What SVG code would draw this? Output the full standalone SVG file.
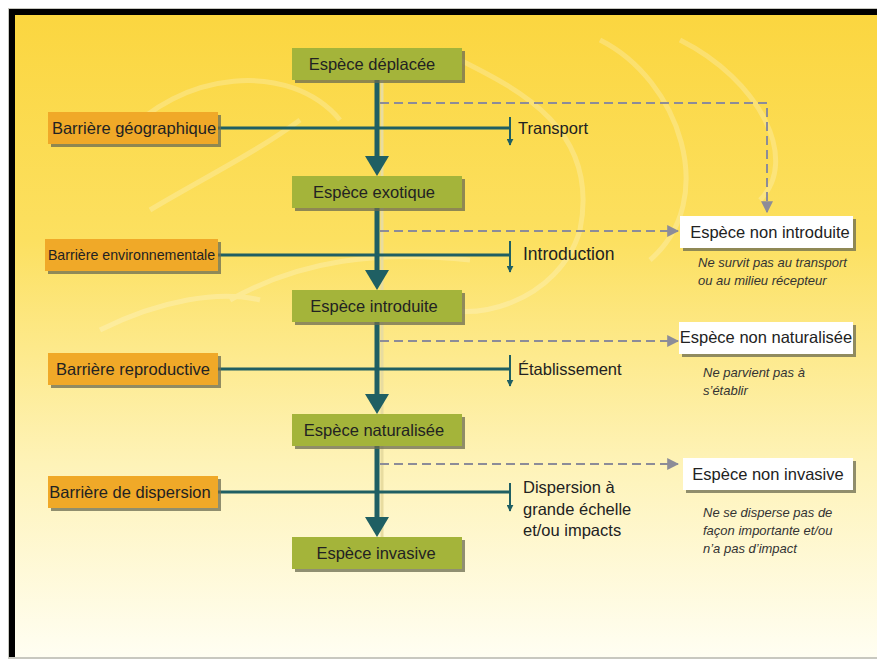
<svg xmlns="http://www.w3.org/2000/svg" width="877" height="659" viewBox="0 0 877 659">
<defs>
<linearGradient id="bg" x1="0" y1="0" x2="0" y2="1">
<stop offset="0" stop-color="#FBD640"/>
<stop offset="0.35" stop-color="#FCE060"/>
<stop offset="0.7" stop-color="#FEF3B8"/>
<stop offset="1" stop-color="#FFFEF2"/>
</linearGradient>
<marker id="ahs" viewBox="0 0 10 10" refX="9" refY="5" markerWidth="3.5" markerHeight="3.5" orient="auto" markerUnits="strokeWidth">
<path d="M0,0 L10,5 L0,10 Z" fill="#1F5F63"/>
</marker>
<marker id="ag" viewBox="0 0 10 10" refX="9" refY="5" markerWidth="6" markerHeight="6" orient="auto" markerUnits="strokeWidth">
<path d="M0,0 L10,5 L0,10 Z" fill="#8C8C98"/>
</marker>
</defs>
<style>
.t{font-family:"Liberation Sans",Arial,sans-serif;font-size:16.5px;fill:#222;}
.c{text-anchor:middle;}
.n{font-family:"Liberation Sans",Arial,sans-serif;font-size:13px;font-style:italic;fill:#333;}
.g{fill:#A4B43A;}
.o{fill:#F0A928;}
.w{fill:#FFFFFF;}
.sh{fill:#6B6B50;opacity:0.75;}
.main{stroke:#1F5F63;stroke-width:5;fill:none;}
.bar{stroke:#1F5F63;stroke-width:3;fill:none;}
.tk{stroke:#1F5F63;stroke-width:2;fill:none;}
.d{stroke:#8C8C98;stroke-width:2;stroke-dasharray:9 5;fill:none;}
</style>
<rect x="0" y="0" width="877" height="659" fill="#FFFFFF"/>
<rect x="8" y="8" width="869" height="651" fill="#C8C8C0"/>
<rect x="9" y="9" width="868" height="648" fill="#000"/>
<rect x="15" y="15" width="862" height="642" fill="url(#bg)"/>
<g opacity="0.22" fill="none" stroke="#FFFFFF" stroke-width="5">
<path d="M120,140 C180,70 290,60 340,120"/>
<path d="M150,210 C200,180 260,150 300,120"/>
<path d="M460,60 C520,90 600,130 580,230 C560,300 470,330 420,300"/>
<path d="M600,40 C680,80 720,200 650,260"/>
<path d="M680,40 C760,80 800,160 760,200"/>
<path d="M230,300 C300,260 380,250 470,260"/>
<path d="M100,330 C160,300 220,290 260,300"/>
</g>
<g id="connectors">
<line x1="382" y1="80" x2="382" y2="537" stroke="#E8DCA0" stroke-width="3"/>
<line class="main" x1="377" y1="80" x2="377" y2="158"/>
<path d="M365,156 L389,156 L377,176 Z" fill="#1F5F63"/>
<line class="main" x1="377" y1="208" x2="377" y2="272"/>
<path d="M365,270 L389,270 L377,290 Z" fill="#1F5F63"/>
<line class="main" x1="377" y1="322" x2="377" y2="396"/>
<path d="M365,394 L389,394 L377,414 Z" fill="#1F5F63"/>
<line class="main" x1="377" y1="446" x2="377" y2="519"/>
<path d="M365,517 L389,517 L377,537 Z" fill="#1F5F63"/>

<line class="bar" x1="218" y1="128" x2="510" y2="128"/>
<line class="tk" x1="510" y1="117" x2="510" y2="145" marker-end="url(#ahs)"/>
<line class="bar" x1="218" y1="255" x2="510" y2="255"/>
<line class="tk" x1="510" y1="241" x2="510" y2="272" marker-end="url(#ahs)"/>
<line class="bar" x1="218" y1="369" x2="510" y2="369"/>
<line class="tk" x1="510" y1="355" x2="510" y2="386" marker-end="url(#ahs)"/>
<line class="bar" x1="218" y1="492" x2="510" y2="492"/>
<line class="tk" x1="510" y1="483" x2="510" y2="511" marker-end="url(#ahs)"/>

<path class="d" d="M380,103 L767,103 L767,212" marker-end="url(#ag)"/>
<line class="d" x1="380" y1="231" x2="678" y2="231" marker-end="url(#ag)"/>
<line class="d" x1="380" y1="341" x2="678" y2="341" marker-end="url(#ag)"/>
<line class="d" x1="380" y1="464" x2="678" y2="464" marker-end="url(#ag)"/>
</g>

<g id="n-deplacee"><rect class="sh" x="295" y="51" width="170" height="32"/><rect class="g" x="292" y="48" width="170" height="32"/><text class="t c" x="372" y="70">Espèce déplacée</text></g>
<g id="n-exotique"><rect class="sh" x="295" y="179" width="170" height="32"/><rect class="g" x="292" y="176" width="170" height="32"/><text class="t c" x="374" y="198">Espèce exotique</text></g>
<g id="n-introduite"><rect class="sh" x="295" y="293" width="170" height="32"/><rect class="g" x="292" y="290" width="170" height="32"/><text class="t c" x="374" y="312">Espèce introduite</text></g>
<g id="n-naturalisee"><rect class="sh" x="295" y="417" width="170" height="32"/><rect class="g" x="292" y="414" width="170" height="32"/><text class="t c" x="374" y="436">Espèce naturalisée</text></g>
<g id="n-invasive"><rect class="sh" x="295" y="540" width="170" height="32"/><rect class="g" x="292" y="537" width="170" height="32"/><text class="t c" x="376" y="559">Espèce invasive</text></g>

<g id="b-geo"><rect class="sh" x="51" y="115" width="170" height="32"/><rect class="o" x="48" y="112" width="170" height="32"/><text class="t c" x="134" y="134">Barrière géographique</text></g>
<g id="b-env"><rect class="sh" x="48" y="242" width="173" height="32"/><rect class="o" x="45" y="239" width="173" height="32"/><text class="t c" x="131.5" y="260" style="font-size:14.2px">Barrière  environnementale</text></g>
<g id="b-rep"><rect class="sh" x="51" y="356" width="170" height="32"/><rect class="o" x="48" y="353" width="170" height="32"/><text class="t c" x="133" y="375">Barrière reproductive</text></g>
<g id="b-dis"><rect class="sh" x="51" y="479" width="170" height="32"/><rect class="o" x="48" y="476" width="170" height="32"/><text class="t c" x="130" y="498">Barrière de dispersion</text></g>

<g id="l-transport"><text class="t" x="518" y="134">Transport</text></g>
<g id="l-introduction"><text class="t" x="523" y="260" style="font-size:17.5px">Introduction</text></g>
<g id="l-etab"><text class="t" x="518" y="375">Établissement</text></g>
<g id="l-disp"><text class="t" x="523" y="493">Dispersion à</text><text class="t" x="523" y="515">grande échelle</text><text class="t" x="523" y="536">et/ou impacts</text></g>

<g id="r-nonintro"><rect class="sh" x="683" y="219" width="173" height="32" opacity="0.5"/><rect class="w" x="680" y="216" width="173" height="32"/><text class="t c" x="770" y="238">Espèce non introduite</text>
<text class="n" x="698" y="267">Ne survit pas au transport</text><text class="n" x="698" y="285">ou au milieu récepteur</text></g>
<g id="r-nonnat"><rect class="sh" x="682" y="325" width="174" height="32" opacity="0.5"/><rect class="w" x="679" y="322" width="174" height="32"/><text class="t c" x="766" y="343">Espèce non naturalisée</text>
<text class="n" x="703" y="377">Ne parvient pas à</text><text class="n" x="703" y="395">s’établir</text></g>
<g id="r-noninv"><rect class="sh" x="686" y="461" width="170" height="32" opacity="0.5"/><rect class="w" x="683" y="458" width="170" height="32"/><text class="t c" x="768" y="480">Espèce non invasive</text>
<text class="n" x="703" y="517">Ne se disperse pas de</text><text class="n" x="703" y="535">façon importante et/ou</text><text class="n" x="703" y="553">n’a pas d’impact</text></g>
</svg>
